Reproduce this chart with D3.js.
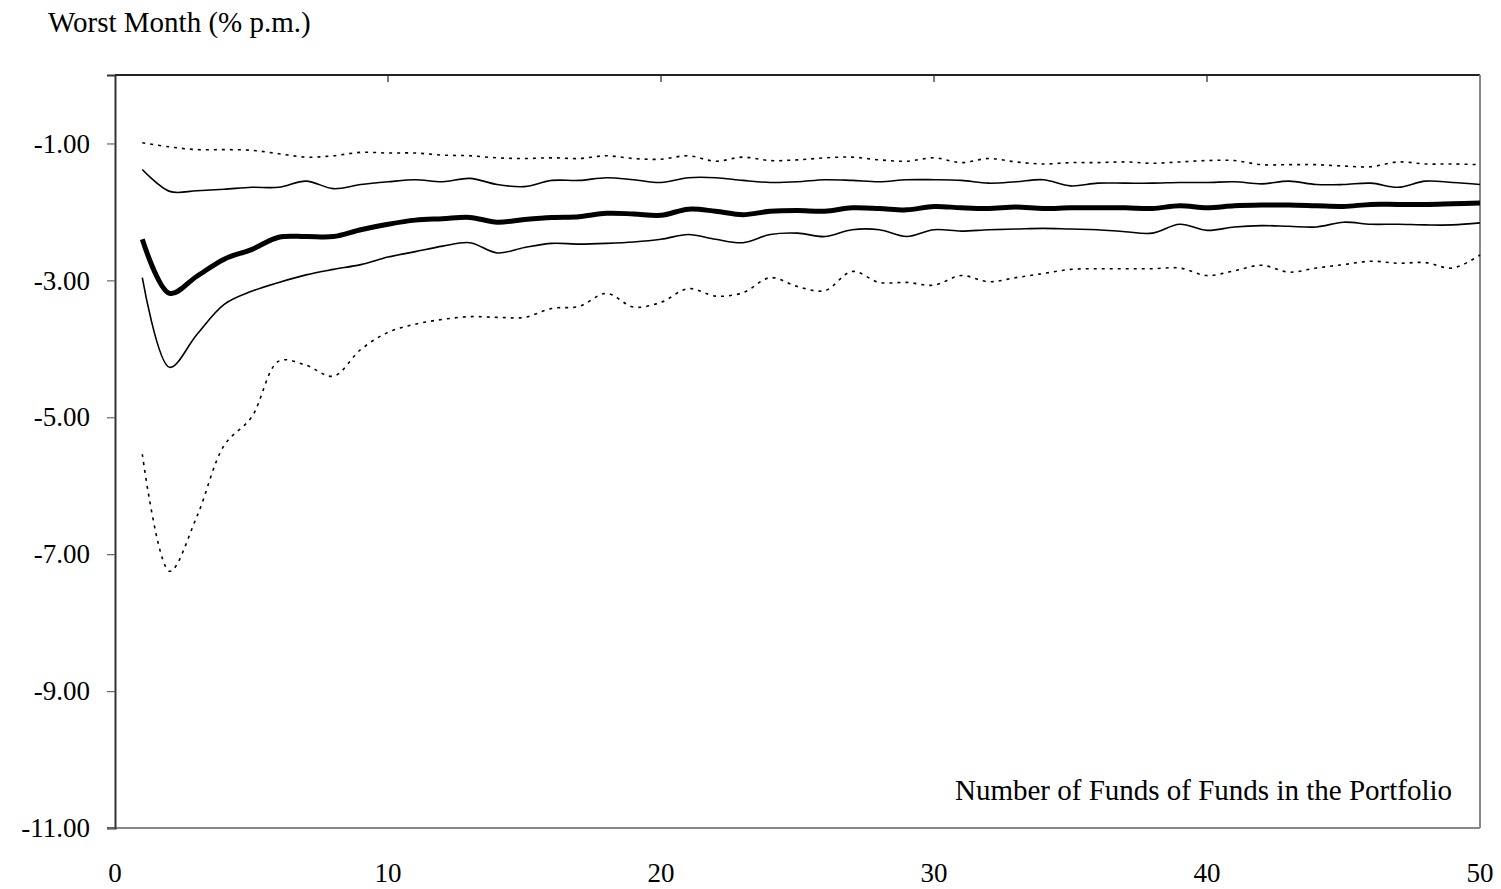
<!DOCTYPE html>
<html>
<head>
<meta charset="utf-8">
<script src="https://cdn.jsdelivr.net/npm/d3@7"></script>
<style>
  body { margin: 0; background: #fff; }
  text { font-family: "Liberation Serif", "Times New Roman", serif; fill: #000; }
</style>
</head>
<body>
<svg id="chart" width="1501" height="889"></svg>
<script>
// number of funds of funds in the portfolio
var nFunds = d3.range(1, 51);

// worst month, % p.m.
var upperDotted = [-0.99, -1.05, -1.09, -1.09, -1.10, -1.15, -1.20, -1.18, -1.13, -1.14,
                   -1.14, -1.17, -1.18, -1.21, -1.22, -1.21, -1.22, -1.18, -1.22, -1.23,
                   -1.18, -1.26, -1.20, -1.25, -1.24, -1.21, -1.20, -1.24, -1.26, -1.21,
                   -1.28, -1.22, -1.27, -1.30, -1.28, -1.28, -1.27, -1.29, -1.27, -1.25,
                   -1.25, -1.31, -1.31, -1.31, -1.33, -1.34, -1.27, -1.30, -1.30, -1.31];
var upperThin =   [-1.38, -1.70, -1.69, -1.67, -1.64, -1.64, -1.55, -1.66, -1.60, -1.56,
                   -1.53, -1.56, -1.51, -1.60, -1.63, -1.54, -1.54, -1.50, -1.53, -1.57,
                   -1.50, -1.50, -1.54, -1.57, -1.56, -1.53, -1.54, -1.56, -1.53, -1.53,
                   -1.54, -1.58, -1.56, -1.53, -1.62, -1.58, -1.58, -1.58, -1.57, -1.57,
                   -1.56, -1.59, -1.55, -1.60, -1.60, -1.58, -1.64, -1.55, -1.57, -1.60];
var median =      [-2.40, -3.19, -2.94, -2.69, -2.55, -2.37, -2.36, -2.36, -2.26, -2.18,
                   -2.12, -2.10, -2.08, -2.15, -2.11, -2.08, -2.07, -2.02, -2.03, -2.05,
                   -1.96, -1.99, -2.04, -1.99, -1.98, -1.99, -1.94, -1.95, -1.97, -1.92,
                   -1.94, -1.95, -1.93, -1.95, -1.94, -1.94, -1.94, -1.95, -1.91, -1.94,
                   -1.91, -1.90, -1.90, -1.91, -1.92, -1.89, -1.89, -1.89, -1.88, -1.87];
var lowerThin =   [-2.96, -4.27, -3.79, -3.35, -3.16, -3.03, -2.92, -2.84, -2.77, -2.66,
                   -2.58, -2.50, -2.45, -2.60, -2.52, -2.46, -2.47, -2.46, -2.44, -2.40,
                   -2.33, -2.40, -2.45, -2.33, -2.31, -2.36, -2.26, -2.26, -2.36, -2.26,
                   -2.28, -2.26, -2.25, -2.24, -2.25, -2.26, -2.29, -2.31, -2.18, -2.27,
                   -2.22, -2.20, -2.21, -2.22, -2.15, -2.18, -2.18, -2.19, -2.19, -2.16];
var lowerDotted = [-5.54, -7.25, -6.45, -5.41, -5.00, -4.18, -4.24, -4.40, -4.01, -3.76,
                   -3.64, -3.57, -3.53, -3.54, -3.54, -3.41, -3.38, -3.19, -3.39, -3.32,
                   -3.12, -3.23, -3.18, -2.96, -3.09, -3.15, -2.87, -3.03, -3.03, -3.07,
                   -2.93, -3.02, -2.96, -2.90, -2.84, -2.83, -2.83, -2.83, -2.82, -2.93,
                   -2.86, -2.78, -2.88, -2.82, -2.77, -2.72, -2.75, -2.74, -2.82, -2.63];

var xTicks = [0, 10, 20, 30, 40, 50];
var yTicks = [-1, -3, -5, -7, -9, -11];

var svg = d3.select("#chart");
var margin = {left: 115, right: 21, top: 75, bottom: 61};
var width = 1501 - margin.left - margin.right;
var height = 889 - margin.top - margin.bottom;
var g = svg.append("g").attr("transform", `translate(${margin.left},${margin.top})`);

var x = d3.scaleLinear().domain([0, 50]).range([0, width]);
var y = d3.scaleLinear().domain([-11, 0]).range([height, 0]);

// frame: top dark, right/bottom grey
g.append("line").attr("x1", 0).attr("x2", width).attr("y1", 0).attr("y2", 0)
    .attr("stroke", "#222").attr("stroke-width", 2);
g.append("line").attr("x1", width).attr("x2", width).attr("y1", 0).attr("y2", height)
    .attr("stroke", "#888").attr("stroke-width", 2);
g.append("line").attr("x1", -8).attr("x2", width).attr("y1", height).attr("y2", height)
    .attr("stroke", "#888").attr("stroke-width", 2);

// top inward ticks
g.selectAll(".topTick")
    .data(xTicks.slice(1, -1))
    .enter().append("line")
    .attr("x1", d => x(d)).attr("x2", d => x(d))
    .attr("y1", 0).attr("y2", 7)
    .attr("stroke", "#222").attr("stroke-width", 1.2);

// left axis (hyphen minus, as in the original)
var yAxis = g.append("g")
    .call(d3.axisLeft(y).tickValues(yTicks).tickSize(8).tickPadding(17)
        .tickFormat(d => d.toFixed(2)));
yAxis.select(".domain").attr("stroke", "#333").attr("stroke-width", 2);
yAxis.selectAll(".tick line").attr("stroke", "#666").attr("stroke-width", 1.2);
yAxis.selectAll(".tick text")
    .style("font-family", "Liberation Serif, Times New Roman, serif")
    .style("font-size", "27px").attr("fill", "#000");

// bottom tick labels only
g.selectAll(".xLabel")
    .data(xTicks)
    .enter().append("text")
    .attr("x", d => x(d))
    .attr("y", height + 54)
    .attr("text-anchor", "middle")
    .style("font-size", "27px")
    .text(d => d);

// lines
var series = [
    {vals: upperDotted, w: 1.6, dash: "3,5"},
    {vals: upperThin, w: 1.6, dash: null},
    {vals: median, w: 5, dash: null},
    {vals: lowerThin, w: 1.6, dash: null},
    {vals: lowerDotted, w: 1.6, dash: "3,5"}
];

var line = d3.line()
    .x((d, i) => x(nFunds[i]))
    .y(d => y(d))
    .curve(d3.curveCatmullRom.alpha(0.5));

g.selectAll(".series")
    .data(series)
    .enter().append("path")
    .attr("fill", "none")
    .attr("stroke", "#000")
    .attr("stroke-width", d => d.w)
    .attr("stroke-dasharray", d => d.dash)
    .attr("stroke-linejoin", "round")
    .attr("d", d => line(d.vals));

// titles
svg.append("text").attr("x", 48).attr("y", 32)
    .style("font-size", "29px")
    .text("Worst Month (% p.m.)");

g.append("text").attr("x", width - 28).attr("y", height - 28)
    .attr("text-anchor", "end")
    .style("font-size", "29px")
    .text("Number of Funds of Funds in the Portfolio");
</script>
</body>
</html>
